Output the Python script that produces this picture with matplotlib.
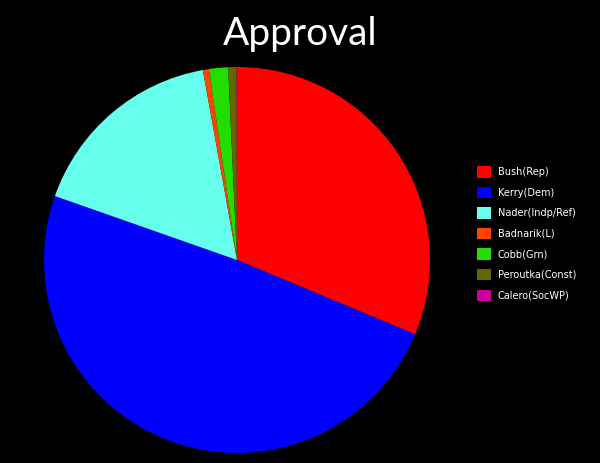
import matplotlib.pyplot as plt
from matplotlib.patches import Patch

# data (approval share, percent)
candidates = ['Bush(Rep)', 'Kerry(Dem)', 'Nader(Indp/Ref)', 'Badnarik(L)',
              'Cobb(Grn)', 'Peroutka(Const)', 'Calero(SocWP)']
approval = [31.3, 49.1, 16.8, 0.5, 1.6, 0.7, 0.03]
colors = ['#ff0000', '#0000ff', '#66ffee', '#ff4400', '#22dd00', '#666600', '#cc0099']

fig = plt.figure(figsize=(6, 4.63), dpi=100, facecolor='black')

# pie axes: center ~ (237,260) px, radius ~193 px
ax = fig.add_axes([44/600, 10/463, 386/600, 386/463])
ax.set_facecolor('black')
ax.pie(approval, colors=colors, startangle=90, counterclock=False,
       wedgeprops={'linewidth': 0})
ax.set_xlim(-1, 1)
ax.set_ylim(-1, 1)
ax.axis('off')

fig.text(0.5, 1 - 34/463, 'Approval', color='white', fontsize=28,
         ha='center', va='center', family='Lato')

handles = [Patch(facecolor=c, edgecolor='none') for c in colors]
leg = fig.legend(handles, candidates, loc='upper left',
                 bbox_to_anchor=(477/600, 1 - 166/463), frameon=False,
                 fontsize=7, handlelength=1.45, handleheight=1.45,
                 labelspacing=0.93, handletextpad=0.7, borderpad=0,
                 borderaxespad=0)
for t in leg.get_texts():
    t.set_color('white')

fig.savefig('out.png', dpi=100, facecolor='black')
